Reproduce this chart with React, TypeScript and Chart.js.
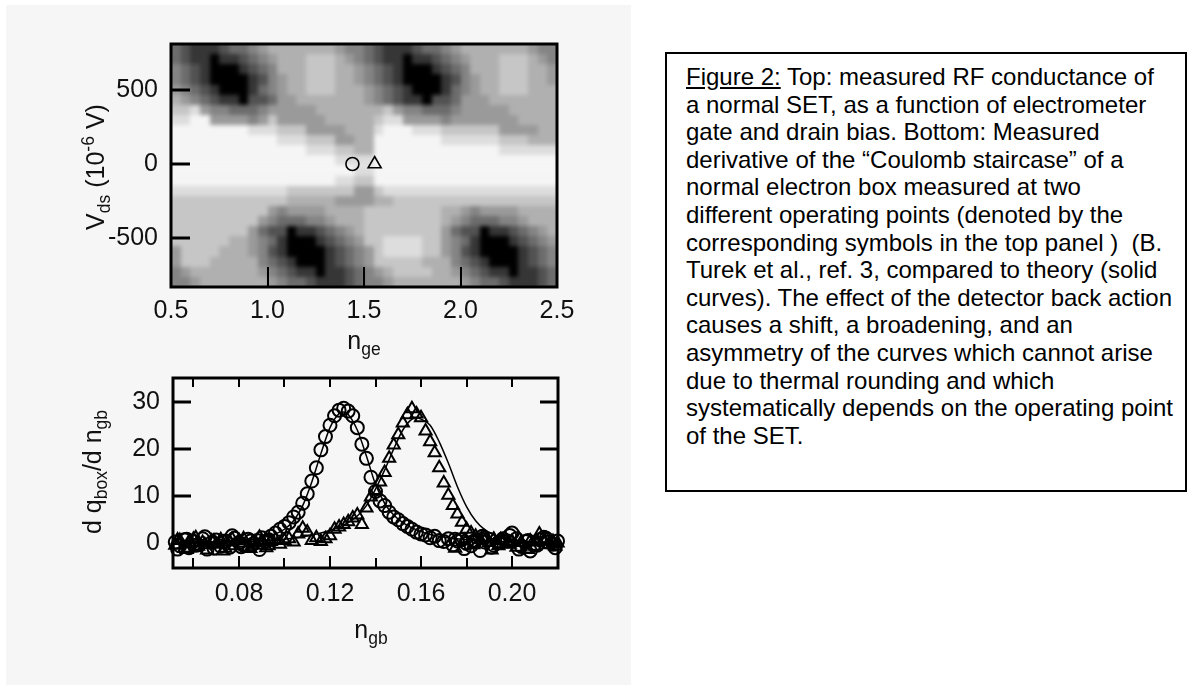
import React, { useEffect, useRef } from "react";
import { Chart, registerables } from "chart.js";

Chart.register(...registerables);

const SANS = "'Liberation Sans', Arial, Helvetica, sans-serif";
const INK = "#111111";

// ---------------- top panel : RF conductance map ----------------
const gateTicks = [0.5, 1.0, 1.5, 2.0, 2.5];
const gateInnerTicks = [1.0, 1.5, 2.0];
const biasTicks = [-500, 0, 500];
const gateRange = [0.5, 2.5];
const biasRange = [-830, 810];

// centres of the map cells (columns: n_ge, rows: V_ds from top to bottom)
const mapGate = [
  0.525, 0.575, 0.625, 0.675, 0.725, 0.775, 0.825, 0.875, 0.925, 0.975,
  1.025, 1.075, 1.125, 1.175, 1.225, 1.275, 1.325, 1.375, 1.425, 1.475,
  1.525, 1.575, 1.625, 1.675, 1.725, 1.775, 1.825, 1.875, 1.925, 1.975,
  2.025, 2.075, 2.125, 2.175, 2.225, 2.275, 2.325, 2.375, 2.425, 2.475,
];
const mapBias = [
  775.8, 707.5, 639.2, 570.8, 502.5, 434.2, 365.8, 297.5, 229.2, 160.8, 92.5, 24.2,
  -44.2, -112.5, -180.8, -249.2, -317.5, -385.8, -454.2, -522.5, -590.8, -659.2, -727.5, -795.8,
];
// grey level of every cell (0 = black ... 9 = white), one string per row
const mapRows = [
  "3211123345666666654432111233456666666544",
  "3211011234566677765432110112345666777654",
  "4321000123466677766543210001234666777665",
  "4321000012456677766543210000124566777665",
  "5432100013456677766654321000134566777666",
  "6543211022355666666654321102235556666666",
  "7785443334555556666666754433345555566666",
  "8899555545755555666667885555455555556666",
  "9999999988877755556668999888777777555566",
  "9999999999988877755669999999888888777666",
  "9999999999999988877669999999999999888888",
  "9999999999999999988889999999999999999999",
  "9999999999999999999889999999999999999999",
  "9999999999999999988779999999999999999999",
  "8888888888887777777557888888888888888888",
  "7777777777776666655556677777777777777777",
  "7777777777545555666677777777665455556666",
  "7777777775433344566677777777654333445666",
  "7777777753220112345677777777532201123456",
  "7777776654310001234577888877543100012345",
  "5777766654210000123457888877542100001234",
  "5777666664321000123457777766643210001234",
  "4566666665432110112345677776654321101123",
  "4456666666543321112344566666665433211123",
];
const grayPalette = [
  "#000000", "#363636", "#525252", "#6c6c6c", "#848484",
  "#9a9a9a", "#b0b0b0", "#c6c6c6", "#dddddd", "#f5f5f5",
];
const circlePoint = [{ x: 1.44, y: 0 }];
const trianglePoint = [{ x: 1.555, y: 0 }];

// ---------------- bottom panel : d q_box / d n_gb ----------------
const boxGateTicks = [0.08, 0.12, 0.16, 0.2];
const boxGateMarks = [0.06, 0.08, 0.1, 0.12, 0.14, 0.16, 0.18, 0.2];
const derivTicks = [0, 10, 20, 30];
const boxGateRange = [0.051, 0.2202];
const derivRange = [-5.2, 35];

const sweepGate = [
  0.052, 0.054, 0.056, 0.058, 0.06, 0.062, 0.064, 0.066, 0.068, 0.07,
  0.072, 0.074, 0.076, 0.078, 0.08, 0.082, 0.084, 0.086, 0.088, 0.09,
  0.092, 0.094, 0.096, 0.098, 0.1, 0.102, 0.104, 0.106, 0.108, 0.11,
  0.112, 0.114, 0.116, 0.118, 0.12, 0.122, 0.124, 0.126, 0.128, 0.13,
  0.132, 0.134, 0.136, 0.138, 0.14, 0.142, 0.144, 0.146, 0.148, 0.15,
  0.152, 0.154, 0.156, 0.158, 0.16, 0.162, 0.164, 0.166, 0.168, 0.17,
  0.172, 0.174, 0.176, 0.178, 0.18, 0.182, 0.184, 0.186, 0.188, 0.19,
  0.192, 0.194, 0.196, 0.198, 0.2, 0.202, 0.204, 0.206, 0.208, 0.21,
  0.212, 0.214, 0.216, 0.218, 0.22,
];
const circleDeriv = [
  0.3, -0.5, 0.8, -0.9, 0.4, -0.3, 1.0, -1.2, 0.2, 0.7,
  -0.6, 0.5, -0.8, 1.1, 0.2, -0.4, 0.9, -0.2, 0.6, 1.2,
  0.4, 1.5, 2.2, 3.0, 3.6, 4.4, 5.6, 6.6, 8.5, 10.5,
  13.2, 16.0, 19.8, 22.6, 25.0, 27.0, 28.2, 28.6, 28.0, 27.0,
  24.5, 21.0, 18.0, 14.0, 11.0, 9.0, 8.0, 6.6, 5.6, 5.0,
  4.2, 3.6, 3.0, 2.4, 2.0, 1.8, 1.2, 1.5, 0.6, 0.4,
  1.0, -0.3, 0.5, 0.8, 0.0, -0.5, 0.6, -1.5, 0.3, 0.9,
  -0.4, 0.2, 1.0, 0.5, 2.2, 1.0, -0.6, 0.4, -1.6, -0.2,
  0.8, 1.3, 0.3, -0.2, 0.5,
];
const triangleDeriv = [
  -0.4, 0.6, -1.0, 0.3, 0.9, -0.6, 0.2, -1.4, 0.5, -0.2,
  0.8, -1.0, 0.3, -0.5, 0.6, 1.0, -0.8, 0.2, -0.4, 0.5,
  -0.9, 0.4, 0.8, -0.2, 0.6, 1.0, 0.3, 2.0, 3.2, 2.4,
  0.6, 1.2, 0.4, 1.0, 1.6, 3.0, 3.5, 4.0, 4.6, 5.4,
  6.0, 4.0, 7.5, 9.8, 11.2, 13.0, 15.0, 18.0, 20.8, 23.0,
  25.5, 27.2, 28.5, 27.4, 26.6, 23.8, 21.5, 19.2, 16.0, 12.8,
  10.2, 8.0, 6.2, 4.5, 3.0, 2.2, 1.5, 0.8, 1.3, 0.2,
  0.9, -0.5, 0.6, 0.0, 0.4, -0.8, 0.2, -1.2, 0.5, -0.6,
  2.0, 0.6, -0.3, 0.4, 0.1,
];
// extra (return-sweep) points on the flat parts of both curves
const returnGate = [
  0.053, 0.057, 0.061, 0.065, 0.069, 0.073, 0.077, 0.081, 0.085, 0.089, 0.093,
  0.175, 0.179, 0.183, 0.187, 0.191, 0.195, 0.199, 0.203, 0.207, 0.211, 0.215, 0.219,
];
const circleReturn = [
  -1.2, 0.9, -0.4, 1.4, -1.0, 0.3, 1.6, -0.7, 0.5, -1.3, 0.8,
  0.9, -1.1, 0.4, 1.5, -0.8, 0.2, 1.7, -1.2, 0.6, -0.4, 1.1, -0.9,
];
const triangleReturn = [
  0.7, -1.3, 1.2, -0.3, 0.5, -1.6, 0.9, 0.1, -1.1, 1.3, -0.5,
  -1.0, 0.6, -0.3, 1.2, -1.4, 0.8, -0.2, 1.0, -1.3, 0.4, 0.9, -0.6,
];
const circleTheoryGate = [
  0.052, 0.06, 0.068, 0.076, 0.084, 0.088, 0.092, 0.096, 0.1, 0.104,
  0.108, 0.112, 0.116, 0.12, 0.124, 0.126, 0.128, 0.132, 0.136, 0.14,
  0.144, 0.148, 0.152, 0.156, 0.16, 0.164, 0.168, 0.172, 0.176, 0.18,
  0.188, 0.196, 0.204, 0.212, 0.22,
];
const circleTheory = [
  0.2, 0.25, 0.35, 0.5, 0.8, 1.0, 1.4, 2.0, 3.0, 4.8,
  8.0, 13.0, 19.0, 24.5, 27.5, 27.8, 27.3, 24.0, 18.5, 12.5,
  8.5, 6.0, 4.4, 3.3, 2.5, 1.9, 1.5, 1.2, 1.0, 0.8,
  0.55, 0.4, 0.3, 0.25, 0.2,
];
const triangleTheoryGate = [
  0.052, 0.06, 0.068, 0.076, 0.084, 0.092, 0.1, 0.108, 0.116, 0.12,
  0.124, 0.128, 0.132, 0.136, 0.14, 0.144, 0.148, 0.152, 0.156, 0.158,
  0.16, 0.164, 0.168, 0.172, 0.176, 0.18, 0.184, 0.188, 0.192, 0.196,
  0.2, 0.208, 0.22,
];
const triangleTheory = [
  0.1, 0.15, 0.2, 0.3, 0.4, 0.6, 0.9, 1.4, 2.2, 2.8,
  3.5, 4.4, 5.8, 8.0, 11.5, 15.5, 20.0, 24.0, 26.3, 26.6,
  26.3, 25.0, 21.5, 17.0, 12.0, 7.8, 4.8, 2.9, 1.8, 1.1,
  0.7, 0.35, 0.15,
];

// ---------------- helpers ----------------
function seg(ctx: CanvasRenderingContext2D, x1: number, y1: number, x2: number, y2: number) {
  ctx.beginPath();
  ctx.moveTo(x1, y1);
  ctx.lineTo(x2, y2);
  ctx.stroke();
}

const tickFont = { family: SANS, size: 25, lineHeight: 1.2 };

const mapPlugin = {
  id: "conductanceMap",
  beforeDatasetsDraw(chart: any) {
    const { ctx, chartArea: a } = chart;
    const x = chart.scales.x;
    const y = chart.scales.y;
    const hw = (mapGate[1] - mapGate[0]) / 2;
    const hh = (mapBias[0] - mapBias[1]) / 2;
    const ext = 14;
    // paint the cells on an off-screen layer (edge cells stretched a little past the frame)
    const off = document.createElement("canvas");
    off.width = chart.width;
    off.height = chart.height;
    const o = off.getContext("2d") as CanvasRenderingContext2D;
    const nr = mapRows.length;
    mapRows.forEach((row, r) => {
      let yt = Math.round(y.getPixelForValue(mapBias[r] + hh));
      let yb = Math.round(y.getPixelForValue(mapBias[r] - hh));
      if (r === 0) yt -= ext;
      if (r === nr - 1) yb += ext;
      for (let c = 0; c < row.length; c++) {
        let xl = Math.round(x.getPixelForValue(mapGate[c] - hw));
        let xr = Math.round(x.getPixelForValue(mapGate[c] + hw));
        if (c === 0) xl -= ext;
        if (c === row.length - 1) xr += ext;
        o.fillStyle = grayPalette[Number(row[c])];
        o.fillRect(xl, yt, xr - xl, yb - yt);
      }
    });
    ctx.save();
    ctx.beginPath();
    ctx.rect(a.left, a.top, a.right - a.left, a.bottom - a.top);
    ctx.clip();
    ctx.filter = "blur(2px)";
    ctx.drawImage(off, 0, 0);
    ctx.filter = "none";
    ctx.restore();
    ctx.save();
    ctx.strokeStyle = "#000";
    ctx.lineWidth = 3;
    ctx.strokeRect(a.left, a.top, a.right - a.left, a.bottom - a.top);
    biasTicks.forEach((v) => {
      const p = Math.round(y.getPixelForValue(v));
      seg(ctx, a.left, p, a.left + 19, p);
    });
    ctx.lineWidth = 2;
    gateInnerTicks.forEach((v) => {
      const p = Math.round(x.getPixelForValue(v));
      seg(ctx, p, a.bottom, p, a.bottom - 20);
    });
    ctx.restore();
  },
};

const boxFramePlugin = {
  id: "boxFrame",
  beforeDatasetsDraw(chart: any) {
    const { ctx, chartArea: a } = chart;
    const x = chart.scales.x;
    const y = chart.scales.y;
    ctx.save();
    ctx.strokeStyle = "#000";
    ctx.lineWidth = 3;
    ctx.strokeRect(a.left, a.top, a.right - a.left, a.bottom - a.top);
    derivTicks.forEach((v) => {
      const p = Math.round(y.getPixelForValue(v));
      seg(ctx, a.left, p, a.left + 18, p);
      seg(ctx, a.right, p, a.right - 18, p);
    });
    ctx.lineWidth = 2;
    boxGateMarks.forEach((v) => {
      const p = Math.round(x.getPixelForValue(v));
      const major = boxGateTicks.some((t) => Math.abs(t - v) < 1e-6);
      seg(ctx, p, a.bottom, p, a.bottom - (major ? 12 : 10));
      seg(ctx, p, a.top, p, a.top + 9);
    });
    ctx.restore();
  },
};

function fixedTicks(list: number[]) {
  return (s: any) => {
    s.ticks = list.map((v) => ({ value: v }));
  };
}

function topConfig(): any {
  return {
    type: "scatter",
    data: {
      datasets: [
        {
          data: circlePoint,
          pointStyle: "circle",
          pointRadius: 6.5,
          borderColor: "#000",
          backgroundColor: "rgba(0,0,0,0)",
          borderWidth: 1.6,
        },
        {
          data: trianglePoint,
          pointStyle: "triangle",
          pointRadius: 7.5,
          borderColor: "#000",
          backgroundColor: "rgba(0,0,0,0)",
          borderWidth: 1.6,
        },
      ],
    },
    options: {
      animation: false,
      responsive: false,
      devicePixelRatio: 1,
      events: [],
      layout: { padding: { top: 44, right: 63, left: 0, bottom: 0 } },
      plugins: { legend: { display: false }, tooltip: { enabled: false } },
      scales: {
        x: {
          type: "linear",
          min: gateRange[0],
          max: gateRange[1],
          afterBuildTicks: fixedTicks(gateTicks),
          afterFit: (s: any) => {
            s.height = 63;
          },
          grid: { display: false, drawTicks: false },
          border: { display: false },
          ticks: {
            padding: 9,
            autoSkip: false,
            maxRotation: 0,
            font: tickFont,
            color: INK,
            callback: (v: any) => Number(v).toFixed(1),
          },
        },
        y: {
          type: "linear",
          min: biasRange[0],
          max: biasRange[1],
          afterBuildTicks: fixedTicks(biasTicks),
          afterFit: (s: any) => {
            s.width = 171;
          },
          grid: { display: false, drawTicks: false },
          border: { display: false },
          ticks: {
            padding: 13,
            autoSkip: false,
            font: tickFont,
            color: INK,
            callback: (v: any) => String(v),
          },
        },
      },
    },
    plugins: [mapPlugin],
  };
}

function bottomConfig(): any {
  const pts = (xs: number[], ys: number[]) => xs.map((x, i) => ({ x, y: ys[i] }));
  const marker = (style: string, r: number) => ({
    pointStyle: style,
    pointRadius: r,
    borderColor: "#000",
    backgroundColor: "rgba(0,0,0,0)",
    borderWidth: 2,
    clip: false,
  });
  return {
    type: "scatter",
    data: {
      datasets: [
        { data: pts(sweepGate, circleDeriv), ...marker("circle", 6.5) },
        { data: pts(returnGate, circleReturn), ...marker("circle", 6.5) },
        { data: pts(sweepGate, triangleDeriv), ...marker("triangle", 7) },
        { data: pts(returnGate, triangleReturn), ...marker("triangle", 7) },
        {
          type: "line",
          data: pts(circleTheoryGate, circleTheory),
          borderColor: "#000",
          borderWidth: 1.5,
          pointRadius: 0,
          cubicInterpolationMode: "monotone",
          fill: false,
        },
        {
          type: "line",
          data: pts(triangleTheoryGate, triangleTheory),
          borderColor: "#000",
          borderWidth: 1.5,
          pointRadius: 0,
          cubicInterpolationMode: "monotone",
          fill: false,
        },
      ],
    },
    options: {
      animation: false,
      responsive: false,
      devicePixelRatio: 1,
      events: [],
      layout: { padding: { top: 25, right: 62, left: 0, bottom: 0 } },
      plugins: { legend: { display: false }, tooltip: { enabled: false } },
      scales: {
        x: {
          type: "linear",
          min: boxGateRange[0],
          max: boxGateRange[1],
          afterBuildTicks: fixedTicks(boxGateTicks),
          afterFit: (s: any) => {
            s.height = 92;
          },
          grid: { display: false, drawTicks: false },
          border: { display: false },
          ticks: {
            padding: 11,
            autoSkip: false,
            maxRotation: 0,
            font: tickFont,
            color: INK,
            callback: (v: any) => Number(v).toFixed(2),
          },
        },
        y: {
          type: "linear",
          min: derivRange[0],
          max: derivRange[1],
          afterBuildTicks: fixedTicks(derivTicks),
          afterFit: (s: any) => {
            s.width = 173;
          },
          grid: { display: false, drawTicks: false },
          border: { display: false },
          ticks: {
            padding: 13,
            autoSkip: false,
            font: tickFont,
            color: INK,
            callback: (v: any) => String(v),
          },
        },
      },
    },
    plugins: [boxFramePlugin],
  };
}

const subStyle: React.CSSProperties = {
  fontSize: "0.7em",
  position: "relative",
  top: "0.35em",
  verticalAlign: "baseline",
};
const supStyle: React.CSSProperties = {
  fontSize: "0.7em",
  position: "relative",
  top: "-0.55em",
  verticalAlign: "baseline",
};
const labelBase: React.CSSProperties = {
  position: "absolute",
  font: `25px ${SANS}`,
  lineHeight: 1,
  color: INK,
  whiteSpace: "nowrap",
};

export default function App() {
  const topRef = useRef<HTMLCanvasElement>(null);
  const botRef = useRef<HTMLCanvasElement>(null);

  useEffect(() => {
    const top = new Chart(topRef.current as HTMLCanvasElement, topConfig());
    const bot = new Chart(botRef.current as HTMLCanvasElement, bottomConfig());
    return () => {
      top.destroy();
      bot.destroy();
    };
  }, []);

  return (
    <div
      style={{
        position: "absolute",
        left: 0,
        top: 0,
        width: 1189,
        height: 685,
        background: "#ffffff",
        overflow: "hidden",
      }}
    >
      <div
        style={{
          position: "absolute",
          left: 6,
          top: 5,
          width: 625,
          height: 680,
          background: "#f6f6f6",
        }}
      />
      <canvas
        ref={topRef}
        width={620}
        height={350}
        style={{ position: "absolute", left: 0, top: 0, width: 620, height: 350 }}
      />
      <canvas
        ref={botRef}
        width={620}
        height={310}
        style={{ position: "absolute", left: 0, top: 350, width: 620, height: 310 }}
      />

      <div
        style={{
          ...labelBase,
          left: 95,
          top: 167,
          transform: "translate(-50%, -50%) rotate(-90deg)",
        }}
      >
        V<span style={subStyle}>ds</span> (10<span style={supStyle}>-6</span> V)
      </div>
      <div style={{ ...labelBase, left: 364, top: 328, transform: "translateX(-50%)" }}>
        n<span style={subStyle}>ge</span>
      </div>
      <div
        style={{
          ...labelBase,
          left: 92,
          top: 472,
          transform: "translate(-50%, -50%) rotate(-90deg)",
        }}
      >
        d q<span style={subStyle}>box</span>/d n<span style={subStyle}>gb</span>
      </div>
      <div style={{ ...labelBase, left: 371, top: 617, transform: "translateX(-50%)" }}>
        n<span style={subStyle}>gb</span>
      </div>

      <div
        style={{
          position: "absolute",
          left: 665,
          top: 52,
          width: 522,
          height: 440,
          boxSizing: "border-box",
          border: "2px solid #000",
          padding: "9px 0 0 19px",
          font: `24px ${SANS}`,
          lineHeight: "27.6px",
          color: "#000",
          whiteSpace: "pre",
        }}
      >
        <div>
          <span style={{ textDecoration: "underline" }}>Figure 2:</span> Top: measured RF conductance of
        </div>
        <div>a normal SET, as a function of electrometer</div>
        <div>gate and drain bias. Bottom: Measured</div>
        <div>derivative of the “Coulomb staircase” of a</div>
        <div>normal electron box measured at two</div>
        <div>different operating points (denoted by the</div>
        <div>corresponding symbols in the top panel )  (B.</div>
        <div>Turek et al., ref. 3, compared to theory (solid</div>
        <div>curves). The effect of the detector back action</div>
        <div>causes a shift, a broadening, and an</div>
        <div>asymmetry of the curves which cannot arise</div>
        <div>due to thermal rounding and which</div>
        <div>systematically depends on the operating point</div>
        <div>of the SET.</div>
      </div>
    </div>
  );
}
